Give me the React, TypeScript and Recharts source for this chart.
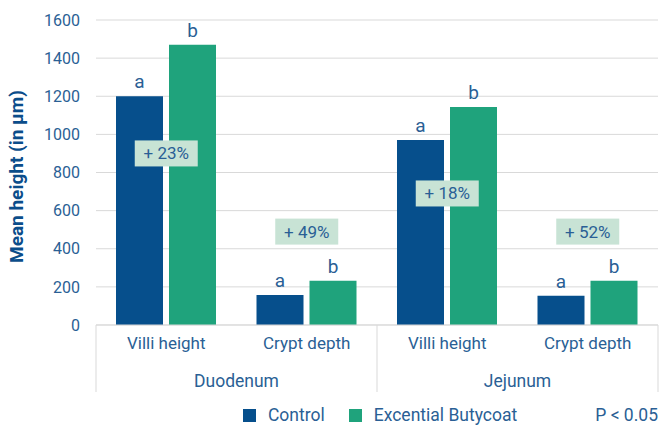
import React from "react";
import {
  ComposedChart,
  Bar,
  Line,
  XAxis,
  YAxis,
  CartesianGrid,
  LabelList,
  Legend,
} from "recharts";

const categories = ["Villi height", "Crypt depth", "Villi height", "Crypt depth"];
const regions = ["Duodenum", "Duodenum", "Jejunum", "Jejunum"];
const controlValues = [1200, 157, 970, 153];
const butycoatValues = [1470, 232, 1143, 232];
const controlLetters = ["a", "a", "a", "a"];
const butycoatLetters = ["b", "b", "b", "b"];
const gainLabels = ["+ 23%", "+ 49%", "+ 18%", "+ 52%"];
const gainLabelLevels = [900, 490, 690, 490];
const yTicks = [0, 200, 400, 600, 800, 1000, 1200, 1400, 1600];

const CONTROL = "#064f8c";
const BUTY = "#1fa37c";
const TEXT = "#2a5f95";
const TITLE = "#0b4d8a";
const LINE = "#d9d9d9";

const W = 660;
const H = 425;
const LEFT = 96;
const RIGHT = 2;
const HALF_BAND = (W - LEFT - RIGHT) / categories.length / 2;

const data = categories.map((metric, i) => ({
  metric,
  region: regions[i],
  control: controlValues[i],
  butycoat: butycoatValues[i],
  controlLetter: controlLetters[i],
  butycoatLetter: butycoatLetters[i],
  gain: gainLabels[i],
  gainY: gainLabelLevels[i],
}));

const GainBadge = (props: any) => {
  const { cx, cy, payload, index } = props;
  if (cx == null || cy == null) return <g key={index} />;
  return (
    <g key={index}>
      <rect x={cx - 31.5} y={cy - 13} width={63} height={26} fill="#c8e3d5" />
      <text
        x={cx}
        y={cy + 6}
        textAnchor="middle"
        fontSize={17}
        fill={TEXT}
      >
        {payload.gain}
      </text>
    </g>
  );
};

const RegionTick = (props: any) => {
  const { x, y, index, payload } = props;
  const top = y - 43;
  const bottom = y + 24;
  return (
    <g>
      {index % 2 === 0 && (
        <>
          <line x1={x - HALF_BAND} x2={x - HALF_BAND} y1={top} y2={bottom} stroke={LINE} />
          <text x={x + HALF_BAND} y={y + 19} textAnchor="middle" fontSize={17.5} fill={TEXT}>
            {payload.value}
          </text>
        </>
      )}
      {index === categories.length - 1 && (
        <line x1={x + HALF_BAND} x2={x + HALF_BAND} y1={top} y2={bottom} stroke={LINE} />
      )}
    </g>
  );
};

const YTitle = (props: any) => {
  const { viewBox } = props;
  const cx = 16;
  const cy = viewBox.y + viewBox.height / 2 + 4;
  return (
    <text
      x={cx}
      y={cy}
      transform={`rotate(-90, ${cx}, ${cy})`}
      textAnchor="middle"
      dominantBaseline="central"
      fontSize={19}
      fontWeight="bold"
      fill={TITLE}
    >
      Mean height (in μm)
    </text>
  );
};

const LegendContent = () => (
  <div
    style={{
      height: 30,
      boxSizing: "border-box",
      paddingTop: 10,
      paddingRight: 2,
      display: "flex",
      justifyContent: "flex-end",
      alignItems: "center",
      fontSize: 17.5,
      lineHeight: "20px",
      color: TEXT,
    }}
  >
    <span style={{ width: 13, height: 13, background: CONTROL, marginRight: 12 }} />
    <span style={{ marginRight: 24 }}>Control</span>
    <span style={{ width: 13, height: 13, background: BUTY, marginRight: 12 }} />
    <span>Excential Butycoat</span>
    <span style={{ marginLeft: 78 }}>P &lt; 0.05</span>
  </div>
);

export default function App() {
  return (
    <div
      style={{
        position: "absolute",
        left: 0,
        top: 0,
        width: W,
        height: H,
        background: "#fff",
        fontFamily: "Roboto, sans-serif",
      }}
    >
      <ComposedChart
        width={W}
        height={H}
        data={data}
        margin={{ top: 20, right: RIGHT, left: 0, bottom: 0 }}
        barCategoryGap={20}
        barGap={6}
      >
        <CartesianGrid vertical={false} stroke={LINE} />
        <XAxis
          dataKey="metric"
          interval={0}
          height={35}
          tickLine={false}
          tickMargin={6}
          axisLine={{ stroke: LINE }}
          tick={{ fill: TEXT, fontSize: 17 }}
        />
        <XAxis
          xAxisId="region"
          dataKey="region"
          interval={0}
          height={35}
          tickLine={false}
          axisLine={false}
          tick={<RegionTick />}
        />
        <YAxis
          width={LEFT}
          domain={[0, 1600]}
          ticks={yTicks}
          tickLine={false}
          axisLine={false}
          tickSize={0}
          tickMargin={16}
          tick={{ fill: TEXT, fontSize: 16 }}
          label={<YTitle />}
        />
        <Legend verticalAlign="bottom" content={<LegendContent />} wrapperStyle={{ left: 0, width: W }} />
        <Bar dataKey="control" name="Control" fill={CONTROL} isAnimationActive={false}>
          <LabelList dataKey="controlLetter" position="top" offset={8} fill={TEXT} fontSize={19} />
        </Bar>
        <Bar dataKey="butycoat" name="Excential Butycoat" fill={BUTY} isAnimationActive={false}>
          <LabelList dataKey="butycoatLetter" position="top" offset={8} fill={TEXT} fontSize={19} />
        </Bar>
        <Line
          dataKey="gainY"
          stroke="none"
          dot={GainBadge}
          activeDot={false}
          legendType="none"
          isAnimationActive={false}
        />
      </ComposedChart>
    </div>
  );
}
